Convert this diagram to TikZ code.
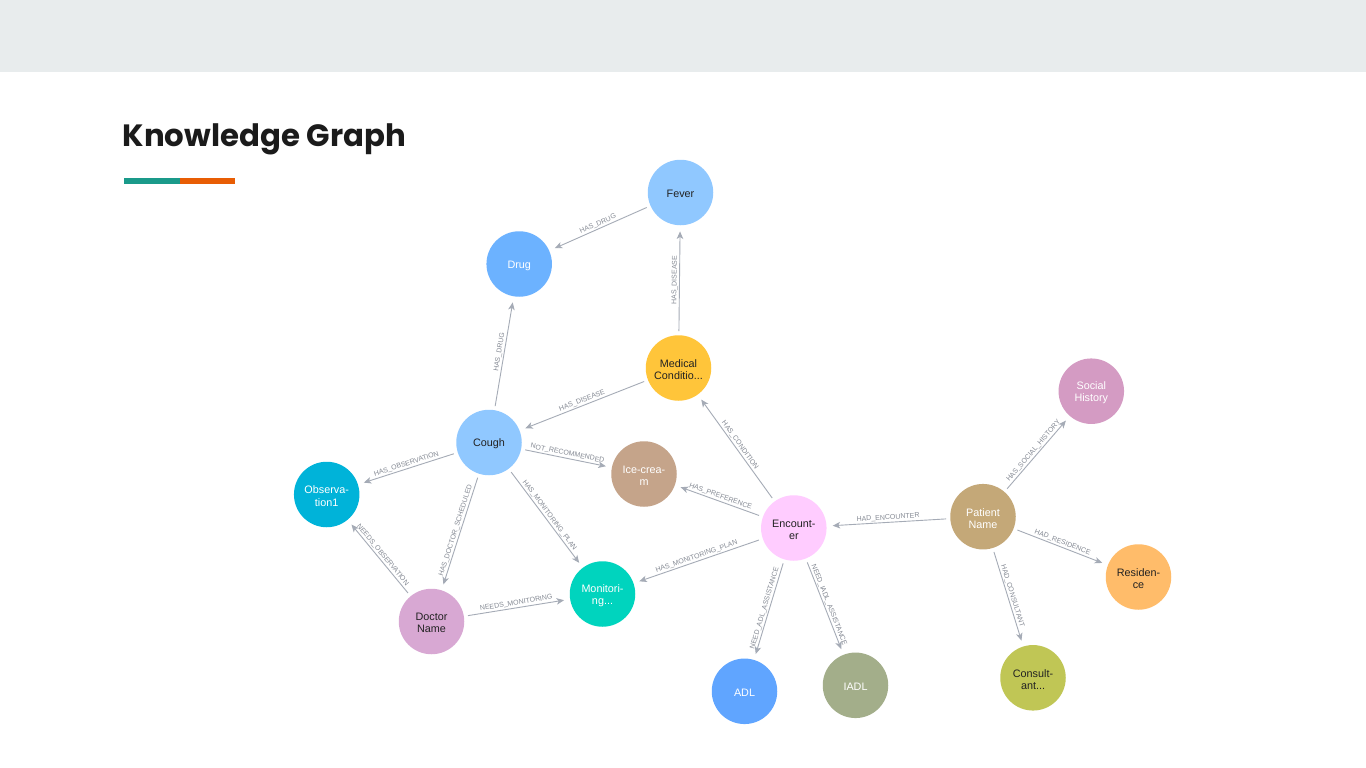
\documentclass[tikz,border=0pt]{standalone}
\usepackage{fontspec}
\setmainfont{Liberation Sans}
\newfontfamily\poppins{Poppins}
\usetikzlibrary{arrows.meta}
\definecolor{edgec}{HTML}{A5ABB6}
\definecolor{lblc}{HTML}{858A94}
\definecolor{topbar}{HTML}{E8ECED}
\definecolor{titlec}{HTML}{1B1B1B}
\definecolor{barteal}{HTML}{1A9A8A}
\definecolor{barorange}{HTML}{E85D04}
\definecolor{darktext}{HTML}{222222}
\definecolor{cFever}{HTML}{90C8FF}
\definecolor{cDrug}{HTML}{6CB2FF}
\definecolor{cMed}{HTML}{FFC53A}
\definecolor{cIce}{HTML}{C5A48A}
\definecolor{cObs}{HTML}{00B3D9}
\definecolor{cDoc}{HTML}{D8A8D3}
\definecolor{cMon}{HTML}{00D4BE}
\definecolor{cEnc}{HTML}{FFCCFF}
\definecolor{cPat}{HTML}{C4A878}
\definecolor{cSoc}{HTML}{D49BC3}
\definecolor{cRes}{HTML}{FFBC6A}
\definecolor{cADL}{HTML}{60A5FF}
\definecolor{cIADL}{HTML}{A3AE8A}
\definecolor{cCons}{HTML}{C0C655}
\begin{document}
\begin{tikzpicture}[x=1pt,y=-1pt,
  nd/.style={circle, minimum size=65.5pt, inner sep=0pt},
  txt/.style={align=center, inner sep=0pt, yshift=-1.7pt,
    font=\fontsize{10.8}{12.2}\selectfont},
  dk/.style={txt, text=darktext},
  wt/.style={txt, text=white},
  rel/.style={draw=edgec, line width=0.9pt,
    -{Stealth[length=7.5pt,width=6.5pt,inset=2pt]}, shorten >=6pt, shorten <=4pt},
  lbl/.style={font=\fontsize{7}{7.5}\selectfont, text=lblc, sloped, above,
    inner sep=1pt, midway}]
\fill[white] (0,0) rectangle (1366,768);
\fill[topbar] (0,0) rectangle (1366,72);
\useasboundingbox (0,0) rectangle (1366,768);
% title
\node[anchor=base west, inner sep=0pt, text=titlec,
  font=\poppins\bfseries\fontsize{30.8}{36}\selectfont] (title) at (122.5,146) {Knowledge Graph};
\fill[barteal] (124,178) rectangle (180,184);
\fill[barorange] (180,178) rectangle (235,184);
% nodes
\node[nd, fill=cFever, label={[dk]center:Fever}] (fever) at (680.5,192.5) {};
\node[nd, fill=cDrug, label={[wt]center:Drug}] (drug) at (519.2,264) {};
\node[nd, fill=cMed, label={[dk]center:{Medical\\Conditio...}}] (med) at (678.5,368) {};
\node[nd, fill=cFever, label={[dk]center:Cough}] (cough) at (489,442.5) {};
\node[nd, fill=cIce, label={[wt]center:{Ice-crea-\\m}}] (ice) at (644,474) {};
\node[nd, fill=cObs, label={[wt]center:{Observa-\\tion1}}] (obs) at (326.7,494.5) {};
\node[nd, fill=cDoc, label={[dk]center:{Doctor\\Name}}] (doc) at (431.5,621.5) {};
\node[nd, fill=cMon, label={[wt]center:{Monitori-\\ng...}}] (mon) at (602.5,594) {};
\node[nd, fill=cEnc, label={[dk]center:{Encount-\\er}}] (enc) at (793.8,528) {};
\node[nd, fill=cPat, label={[wt]center:{Patient\\Name}}] (pat) at (983,516.7) {};
\node[nd, fill=cSoc, label={[wt]center:{Social\\History}}] (soc) at (1091.3,391.2) {};
\node[nd, fill=cRes, label={[dk]center:{Residen-\\ce}}] (res) at (1138.5,577) {};
\node[nd, fill=cADL, label={[wt]center:ADL}] (adl) at (744.5,691.3) {};
\node[nd, fill=cIADL, label={[wt]center:IADL}] (iadl) at (855.5,685.3) {};
\node[nd, fill=cCons, label={[dk]center:{Consult-\\ant...}}] (cons) at (1033,677.8) {};
% relations
\draw[rel] (fever) -- node[lbl]{HAS\_DRUG} (drug);
\draw[rel] (med) -- node[lbl]{HAS\_DISEASE} (fever);
\draw[rel] (cough) -- node[lbl]{HAS\_DRUG} (drug);
\draw[rel] (med) -- node[lbl]{HAS\_DISEASE} (cough);
\draw[rel] (cough) -- node[lbl]{NOT\_RECOMMENDED} (ice);
\draw[rel] (cough) -- node[lbl]{HAS\_OBSERVATION} (obs);
\draw[rel] (cough) -- node[lbl]{HAS\_DOCTOR\_SCHEDULED} (doc);
\draw[rel] (cough) -- node[lbl]{HAS\_MONITORING\_PLAN} (mon);
\draw[rel] (doc) -- node[lbl]{NEEDS\_OBSERVATION} (obs);
\draw[rel] (doc) -- node[lbl]{NEEDS\_MONITORING} (mon);
\draw[rel] (enc) -- node[lbl]{HAS\_CONDITION} (med);
\draw[rel] (enc) -- node[lbl]{HAS\_PREFERENCE} (ice);
\draw[rel] (enc) -- node[lbl]{HAS\_MONITORING\_PLAN} (mon);
\draw[rel] (enc) -- node[lbl]{NEED\_ADL\_ASSISTANCE} (adl);
\draw[rel] (enc) -- node[lbl]{NEED\_IADL\_ASSISTANCE} (iadl);
\draw[rel] (pat) -- node[lbl]{HAD\_ENCOUNTER} (enc);
\draw[rel] (pat) -- node[lbl]{HAS\_SOCIAL\_HISTORY} (soc);
\draw[rel] (pat) -- node[lbl]{HAD\_RESIDENCE} (res);
\draw[rel] (pat) -- node[lbl]{HAD\_CONSULTANT} (cons);
\end{tikzpicture}
\end{document}
